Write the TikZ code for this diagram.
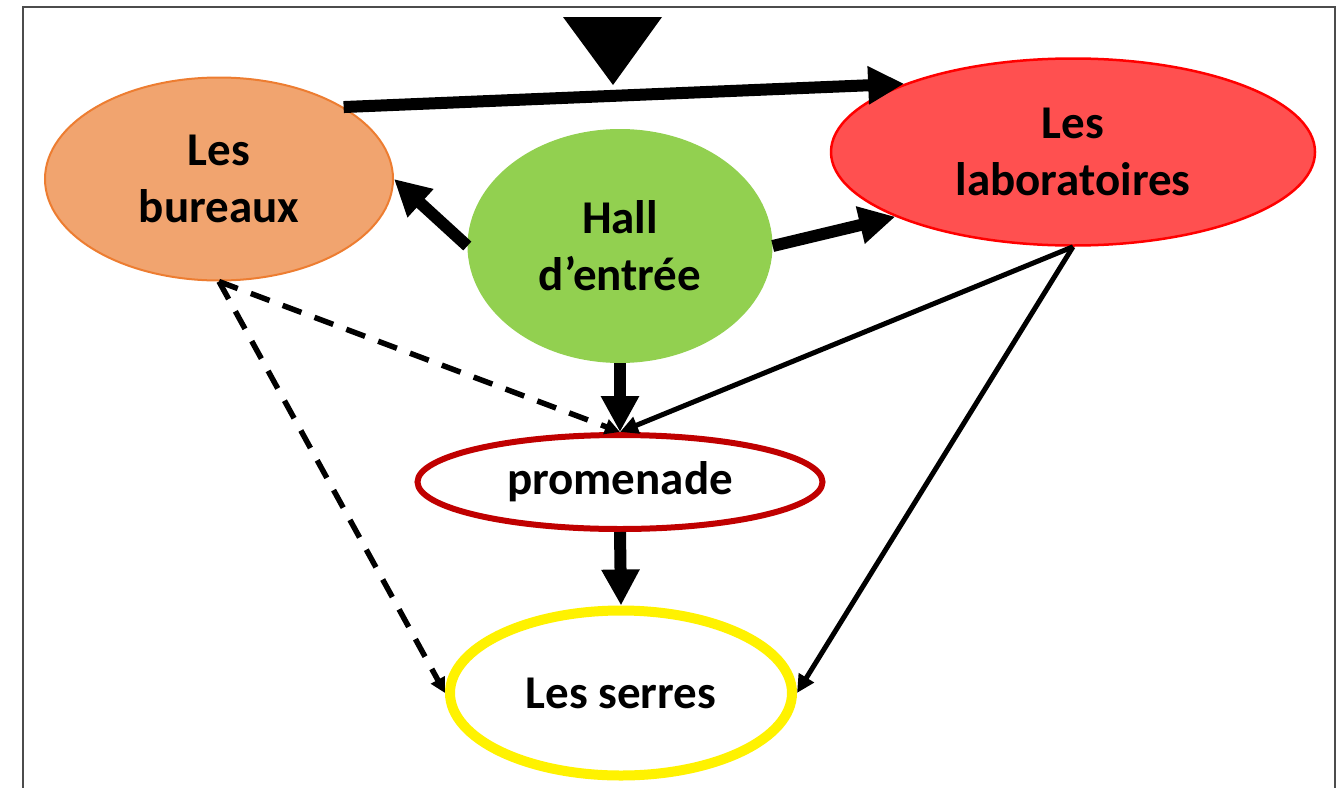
\documentclass[tikz,border=0pt]{standalone}
\usepackage{xcolor}
\usepackage{fontspec}
\setmainfont{Carlito}
\usepackage{tikz}
\usetikzlibrary{shapes.geometric, arrows.meta}

\definecolor{orangeclair}{HTML}{F1A46F}
\definecolor{orangefonce}{HTML}{ED7D31}
\definecolor{vert}{HTML}{92D050}
\definecolor{rouge}{HTML}{FF5050}
\definecolor{bordeaux}{HTML}{C00000}

\begin{document}
\begin{tikzpicture}[x=1pt, y=-1pt,
        salle/.style={ellipse, inner sep=0pt, align=center, font=\bfseries\fontsize{47}{57}\selectfont},
        gros/.style={line width=12pt, -{Triangle[length=36pt, width=36pt]}},
        fin/.style={line width=5pt, -{Triangle[length=18pt, width=17pt]}},
        tiret/.style={line width=5.5pt, dash pattern=on 20pt off 14pt, -{Triangle[length=15pt, width=15pt]}}]
        \useasboundingbox (0,0) rectangle (1337,787);
        \draw[line width=1.5pt, black!70] (23,790) |- (1335,7) -- (1335,790);

        \node[salle, draw=orangefonce, line width=2pt, fill=orangeclair, minimum width=348pt, minimum height=203pt] (bureaux) at (219,179) {Les\\bureaux};
        \node[salle, fill=vert, minimum width=305pt, minimum height=234pt] (hall) at (620,246) {Hall\\d’entrée};
        \node[salle, draw=red, line width=2.5pt, fill=rouge, minimum width=484pt, minimum height=187pt] (labos) at (1073,152) {Les\\laboratoires};
        \node[salle, draw=bordeaux, line width=6pt, fill=white, minimum width=405pt, minimum height=94pt] (promenade) at (620,482) {promenade};
        \node[salle, draw=yellow, line width=10pt, fill=white, minimum width=342pt, minimum height=165pt] (serres) at (621,693) {Les serres};

        % entree
        \fill (563,17) -- (662,17) -- (613,85) -- cycle;

        \path[gros]
        (bureaux.30) edge (labos.158)
        (hall.west) edge (bureaux.east)
        (hall.east) edge (labos.200)
        (hall.south) edge (promenade.north)
        (promenade.south) edge (serres.north);
        \path[fin]
        (labos.south) edge (promenade.north)
        (labos.south) edge (serres.east);
        \path[tiret]
        (bureaux.south) edge (promenade.north)
        (bureaux.south) edge (serres.west);
\end{tikzpicture}
\end{document}
